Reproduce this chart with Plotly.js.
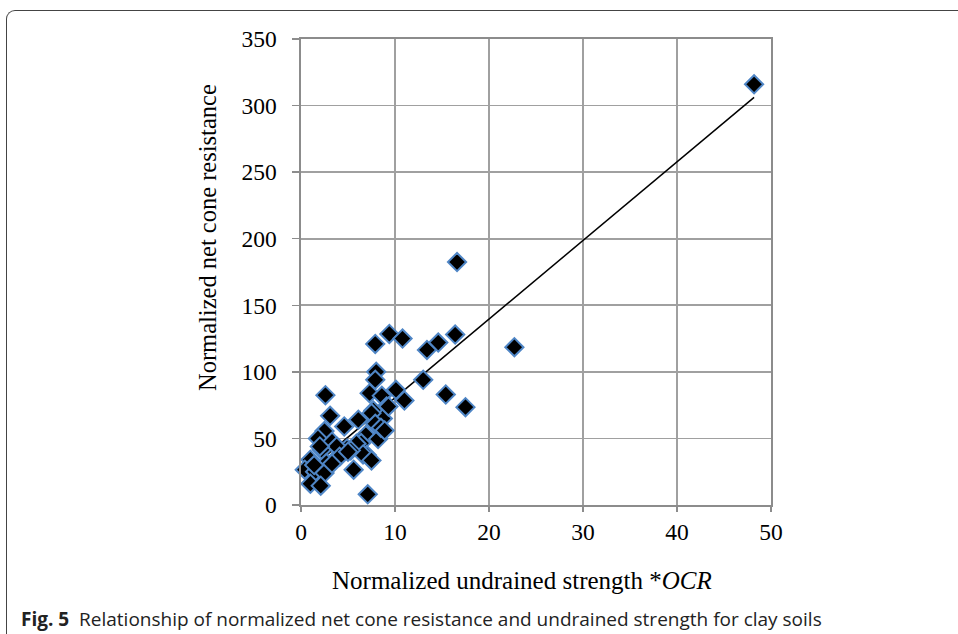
<!DOCTYPE html>
<html>
<head>
<meta charset="utf-8">
<script src="https://cdn.plot.ly/plotly-3.0.1.min.js"></script>
<style>
  html, body { margin: 0; padding: 0; background: #fff; }
  #wrap { position: relative; width: 958px; height: 634px; overflow: hidden; }
  #frame { position: absolute; left: 6px; top: 10px; width: 1000px; height: 700px;
           border-top: 1.3px solid #444; border-left: 1.3px solid #444; border-top-left-radius: 9px; }
  #chart { position: absolute; left: 0; top: 0; width: 958px; height: 634px; }
</style>
</head>
<body>
<div id="wrap">
  <div id="frame"></div>
  <div id="chart"></div>
</div>
<script>
// Normalized undrained strength * OCR
const suOCR = [48.2, 16.6, 9.4, 10.8, 7.9, 13.4, 14.6, 16.4, 22.7, 13.0, 15.4, 17.5, 11.0, 10.1,
  8.0, 7.9, 2.6, 7.3, 8.6, 9.1, 7.7, 8.7, 3.1, 6.1, 7.5, 7.9, 4.6, 2.5, 6.9, 8.2,
  1.8, 3.3, 6.4, 5.9, 4.9, 2.2, 4.3, 7.0, 6.6, 7.5, 1.0, 3.6, 2.7, 0.4, 1.5, 2.5,
  5.6, 1.0, 2.1, 7.1, 5.3, 3.8, 2.0, 4.1, 3.3, 8.5, 8.9, 9.3, 5.0, 1.4];
// Normalized net cone resistance
const qNet = [316, 182.5, 128.5, 125, 121, 116.5, 122, 128, 118.5, 94, 83, 73.5, 78.5, 86.5,
  100, 94, 82.5, 84, 82, 74, 71, 65, 67, 64, 69, 61, 59, 55.5, 52.5, 49.5,
  50, 47.5, 46.5, 46, 42.5, 41.5, 39, 37.5, 38, 33.5, 34, 34, 31.5, 26.5, 25, 24,
  26.5, 16, 14.5, 8, 41, 44, 44, 36.3, 31, 58, 56, 74, 40, 30];

const xTicks = [0, 10, 20, 30, 40, 50];
const yTicks = [0, 50, 100, 150, 200, 250, 300, 350];

// linear least-squares trendline from the data
const n = suOCR.length;
const mx = suOCR.reduce((a, b) => a + b, 0) / n;
const my = qNet.reduce((a, b) => a + b, 0) / n;
let sxy = 0, sxx = 0;
for (let i = 0; i < n; i++) { sxy += (suOCR[i] - mx) * (qNet[i] - my); sxx += (suOCR[i] - mx) ** 2; }
const slope = sxy / sxx, icpt = my - slope * mx;
const xMin = Math.min(...suOCR), xMax = Math.max(...suOCR);
const trendX = [xMin, xMax];
const trendY = trendX.map(x => icpt + slope * x);

// pixel -> paper helpers for annotations
const L = 301, R = 771, T = 39, B = 505;
const px = v => (v - L) / (R - L);
const py = v => (B - v) / (B - T);

const traces = [
  { x: trendX, y: trendY, mode: 'lines', line: { color: '#000', width: 1.5 }, hoverinfo: 'skip' },
  { x: suOCR, y: qNet, mode: 'markers', type: 'scatter', cliponaxis: false,
    marker: { symbol: 'diamond', size: 14, color: '#000', line: { color: '#4f86c6', width: 2 } } }
];

const serif = 'Liberation Serif, Times New Roman, serif';
const axisCommon = {
  ticks: 'outside', tickcolor: '#8c8c8c', tickwidth: 1.5,
  showgrid: true, gridcolor: '#a0a0a0', gridwidth: 1.6, zeroline: false,
  showline: true, linecolor: '#8c8c8c', linewidth: 1.6, mirror: true,
  tickfont: { family: serif, size: 23.5, color: '#000' }
};
const layout = {
  width: 958, height: 634,
  margin: { l: L, r: 958 - R, t: T, b: 634 - B },
  paper_bgcolor: 'rgba(0,0,0,0)', plot_bgcolor: 'rgba(0,0,0,0)',
  showlegend: false,
  xaxis: Object.assign({ range: [0, 50], tickvals: xTicks, ticklen: 5, ticklabelstandoff: 0 }, axisCommon),
  yaxis: Object.assign({ range: [0, 350], tickvals: yTicks, ticklen: 7, ticklabelstandoff: 11 }, axisCommon),
  annotations: [
    { text: 'Normalized undrained strength *<i>OCR</i>', xref: 'paper', yref: 'paper',
      x: px(522), y: py(580), xanchor: 'center', yanchor: 'middle', showarrow: false,
      font: { family: serif, size: 25, color: '#000' } },
    { text: 'Normalized net cone resistance', xref: 'paper', yref: 'paper', textangle: -90,
      x: px(208), y: py(238), xanchor: 'center', yanchor: 'middle', showarrow: false,
      font: { family: serif, size: 24.5, color: '#000' } },
    { text: '<b>Fig. 5</b>  Relationship of normalized net cone resistance and undrained strength for clay soils',
      xref: 'paper', yref: 'paper', x: px(19), y: py(619), xanchor: 'left', yanchor: 'middle',
      showarrow: false, font: { family: 'Open Sans, sans-serif', size: 19, color: '#222' } }
  ]
};

Plotly.newPlot('chart', traces, layout, { displayModeBar: false, staticPlot: true });
</script>
</body>
</html>
